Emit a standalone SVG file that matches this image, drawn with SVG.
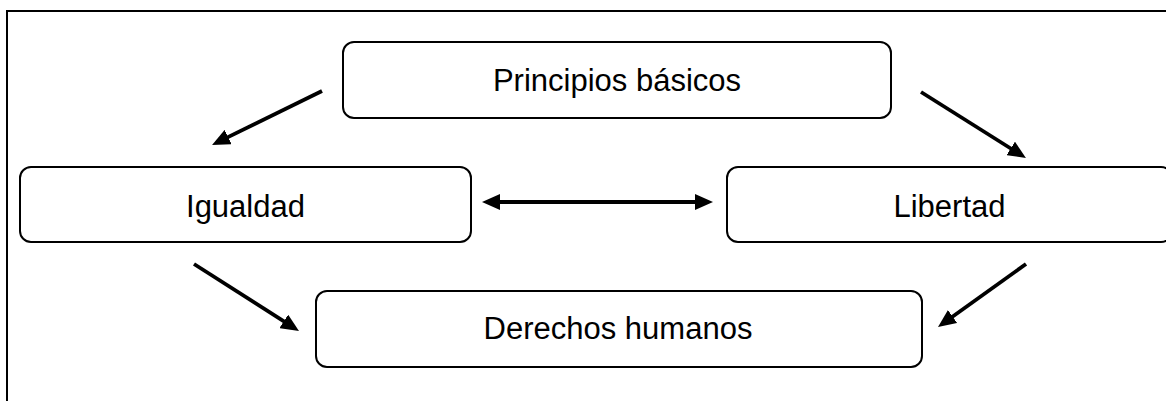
<svg xmlns="http://www.w3.org/2000/svg" width="1166" height="401" viewBox="0 0 1166 401">
<style>
.frame{fill:#fff;stroke:#000;stroke-width:2}
.box{fill:#fff;stroke:#000;stroke-width:2}
.lbl{font-family:"Liberation Sans",Arial,sans-serif;font-size:31px;fill:#000;text-anchor:middle}
.arr{stroke:#000;stroke-width:3.8;fill:none;marker-end:url(#ah)}
</style>
<defs>
<marker id="ah" viewBox="0 0 18 16" refX="2" refY="8" markerWidth="18" markerHeight="16" markerUnits="userSpaceOnUse" orient="auto-start-reverse">
<path d="M0,0 L18,8 L0,16 z" fill="#000"/>
</marker>
</defs>
<rect width="1166" height="401" fill="#fff"/>
<rect class="frame" x="7" y="11" width="1172" height="400"/>
<g id="principios">
<rect class="box" x="343" y="42" width="548" height="76" rx="11"/>
<text class="lbl" x="617" y="91">Principios básicos</text>
</g>
<g id="igualdad">
<rect class="box" x="20" y="167" width="451" height="75" rx="11"/>
<text class="lbl" x="245.5" y="217">Igualdad</text>
</g>
<g id="libertad">
<rect class="box" x="727" y="167" width="445" height="75" rx="11"/>
<text class="lbl" x="949.5" y="217">Libertad</text>
</g>
<g id="derechos">
<rect class="box" x="316" y="291" width="606" height="76" rx="11"/>
<text class="lbl" x="618" y="339">Derechos humanos</text>
</g>
<g id="connectors">
<line class="arr" x1="322" y1="91" x2="226.4" y2="137.9"/>
<line class="arr" x1="921" y1="92" x2="1012.4" y2="149.5"/>
<line class="arr" x1="498" y1="202" x2="697" y2="202" marker-start="url(#ah)"/>
<line class="arr" x1="194" y1="264" x2="285.5" y2="322.4"/>
<line class="arr" x1="1026" y1="264" x2="951" y2="317.7"/>
</g>
</svg>
